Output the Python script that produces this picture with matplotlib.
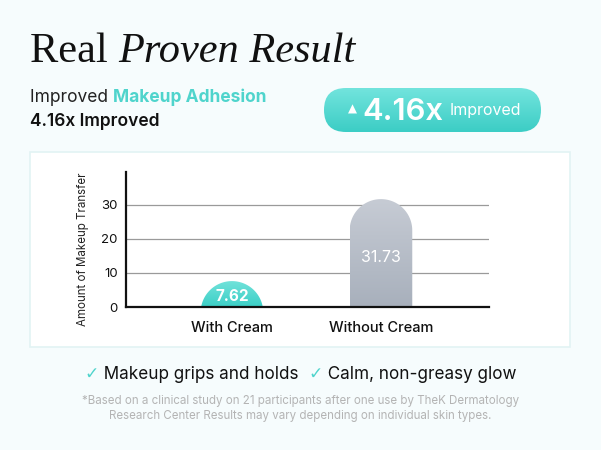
import numpy as np
import matplotlib
matplotlib.use("Agg")
import matplotlib.pyplot as plt
from matplotlib.patches import FancyBboxPatch, Polygon, Rectangle
from matplotlib.colors import LinearSegmentedColormap

# data
categories = ["With Cream", "Without Cream"]
values = [7.62, 31.73]
value_labels = ["7.62", "31.73"]
yticks = [0, 10, 20, 30]
ratio_label = "4.16x"
benefits = ["Makeup grips and holds", "Calm, non-greasy glow"]
footnote = ["*Based on a clinical study on 21 participants after one use by TheK Dermatology",
            "Research Center Results may vary depending on individual skin types."]

W, H = 601, 450
SANS = ["Inter", "DejaVu Sans"]
TEAL = "#4fd4cc"

fig = plt.figure(figsize=(W / 100, H / 100), dpi=100)
fig.patch.set_facecolor("#f6fcfd")

# background axes in pixel coords (y down)
bg = fig.add_axes([0, 0, 1, 1], zorder=0)
bg.axis("off")

bg.add_patch(Rectangle((30, 152), 540, 195, facecolor="white", edgecolor="#e2f3f4", lw=1.2))

# badge pill with gradient
pill = FancyBboxPatch((324, 88), 217, 44, boxstyle="round,pad=0,rounding_size=22",
                      facecolor="none", edgecolor="none")
bg.add_patch(pill)
grad = np.linspace(0, 1, 100).reshape(-1, 1)
teal_cm = LinearSegmentedColormap.from_list("teal", ["#72e4dd", "#3ccdc5"])
im = bg.imshow(grad, cmap=teal_cm, extent=[324, 541, 132, 88], aspect="auto")
im.set_clip_path(pill)
bg.set_xlim(0, W)
bg.set_ylim(H, 0)

renderer = fig.canvas.get_renderer()


def run(x, y, parts, **kw):
    for s, style in parts:
        t = bg.text(x, y, s, va="baseline", ha="left", **{**kw, **style})
        x += t.get_window_extent(renderer).width
    return x


def width(parts, **kw):
    tot = 0
    for s, style in parts:
        t = bg.text(0, 0, s, **{**kw, **style})
        tot += t.get_window_extent(renderer).width
        t.remove()
    return tot


# title
run(30, 62, [("Real ", dict(family="Liberation Serif", size=30.5)),
             ("Proven Result", dict(family="Liberation Serif", size=30.5, style="italic"))],
    color="#111111")

# subtitle
run(30, 102, [("Improved ", dict(color="#222222")),
              ("Makeup Adhesion", dict(color=TEAL, weight="bold"))], family=SANS, size=12.5)
run(30, 126, [(ratio_label + " Improved", dict(color="#111111", weight="semibold"))],
    family=SANS, size=12.5)

# badge text
bg.text(352, 109, "\u25b2", ha="center", va="center", family="DejaVu Sans", size=8.5, color="white")
bg.text(362, 120, ratio_label, ha="left", va="baseline", family=SANS, size=22.3,
        weight="semibold", color="white")
bg.text(450, 115, "Improved", ha="left", va="baseline", family=SANS, size=11.5, color="white")

# chart
ax = fig.add_axes([126 / W, (H - 307) / H, 363 / W, 135 / H], zorder=1)
ax.patch.set_alpha(0)
xlo, xhi = -0.711, 1.725
ylo, yhi = 0, 39.7
ax.set_xlim(xlo, xhi)
ax.set_ylim(ylo, yhi)
for y in yticks[1:]:
    ax.axhline(y, color="#9a9a9a", lw=0.9, zorder=1)

xpx = 363 / (xhi - xlo)
ypx = 135 / (yhi - ylo)
bw = 0.42
cmaps = [LinearSegmentedColormap.from_list("c0", ["#70e2da", "#3ccfc6"]),
         LinearSegmentedColormap.from_list("c1", ["#c6cbd4", "#a8b0bc"])]
for i, v in enumerate(values):
    rx = bw / 2
    ry = rx * xpx / ypx
    th = np.linspace(0, np.pi, 60)
    xs = i + rx * np.cos(th)
    ys = v - ry + ry * np.sin(th)
    pts = np.column_stack([np.r_[i + rx, xs, i - rx], np.r_[-5, ys, -5]])
    poly = Polygon(pts, closed=True, facecolor="none", edgecolor="none")
    ax.add_patch(poly)
    g = ax.imshow(grad, cmap=cmaps[i], extent=[i - rx, i + rx, 0, v], aspect="auto", zorder=2)
    g.set_clip_path(poly)
    ly = v * 0.46 if v > 15 else v * 0.42
    ax.text(i, ly, value_labels[i], ha="center", va="center", color="white",
            family=SANS, size=11 if v < 15 else 11.5, weight="bold" if v < 15 else "normal", zorder=3)

ax.set_xlim(xlo, xhi)
ax.set_ylim(ylo, yhi)
ax.set_yticks(yticks)
ax.set_yticklabels([str(t) for t in yticks], family=SANS, size=9.5, color="#111111")
ax.set_xticks(range(len(categories)))
ax.set_xticklabels(categories, family=SANS, size=10.5, color="#111111", weight="medium")
ax.tick_params(length=0)
ax.tick_params(axis="y", pad=6)
ax.tick_params(axis="x", pad=10)
for s in ["top", "right"]:
    ax.spines[s].set_visible(False)
for s in ["left", "bottom"]:
    ax.spines[s].set_linewidth(1.6)
    ax.spines[s].set_color("#111111")
    ax.spines[s].set_zorder(4)
ax.set_ylabel("Amount of Makeup Transfer", family=SANS, size=8.3, color="#222222")
ax.yaxis.label.set_va("center")
ax.yaxis.set_label_coords((83 - 126) / 363, (307 - 249) / 135)

# benefits line
parts = [("\u2713", dict(color=TEAL, family="DejaVu Sans")), (" " + benefits[0] + "  ", dict(color="#111111")),
         ("\u2713", dict(color=TEAL, family="DejaVu Sans")), (" " + benefits[1], dict(color="#111111"))]
w = width(parts, family=SANS, size=12.3)
run(W / 2 - w / 2, 379, parts, family=SANS, size=12.3)

for k, line in enumerate(footnote):
    bg.text(W / 2, 404 + k * 15, line, ha="center", va="baseline", family=SANS, size=8.3, color="#b4b4b4")

fig.savefig("out.png", dpi=100, facecolor=fig.get_facecolor())
